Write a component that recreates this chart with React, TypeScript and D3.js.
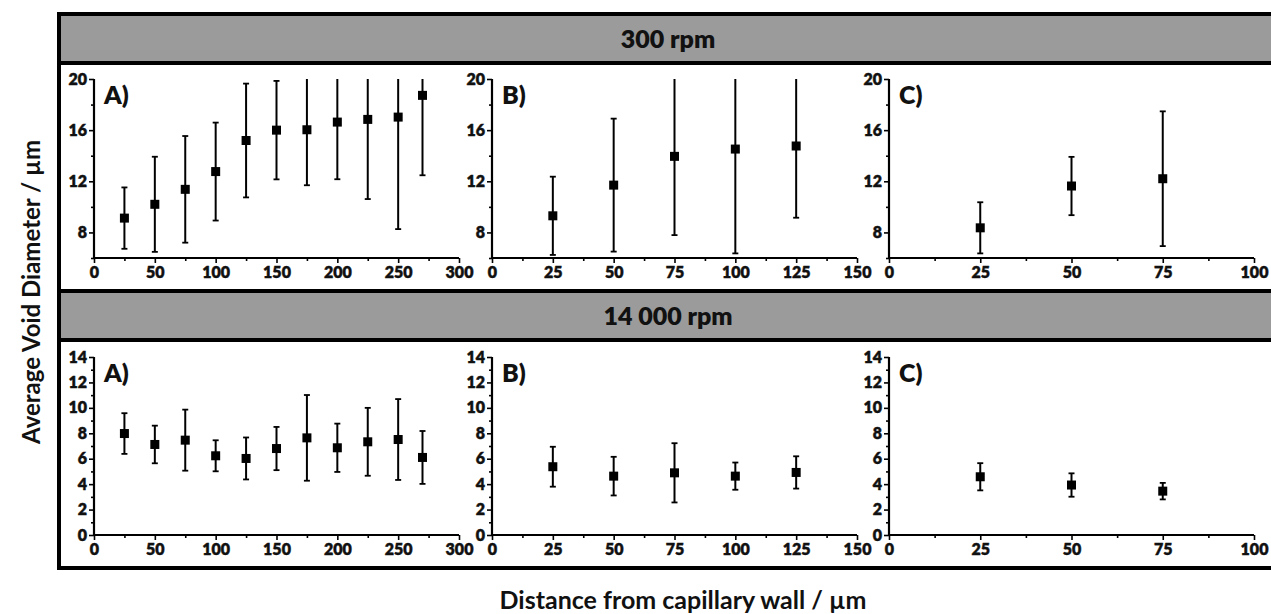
import { useEffect, useRef } from 'react';
import * as d3 from 'd3';

// distances from capillary wall (µm)
const distA = [25, 50, 75, 100, 125, 150, 175, 200, 225, 250, 270];
const distB = [25, 50, 75, 100, 125];
const distC = [25, 50, 75];

// 300 rpm: mean void diameter and error (µm)
const slowA = [9.12, 10.2, 11.37, 12.76, 15.19, 16.0, 16.03, 16.63, 16.84, 17.02, 18.72];
const slowAErr = [2.4, 3.72, 4.17, 3.83, 4.45, 3.85, 4.34, 4.47, 6.23, 8.76, 6.25];
const slowB = [9.3, 11.7, 13.95, 14.52, 14.76];
const slowBErr = [3.06, 5.2, 6.16, 8.16, 5.61];
const slowC = [8.36, 11.63, 12.2];
const slowCErr = [2.0, 2.28, 5.27];

// 14 000 rpm
const fastA = [7.98, 7.12, 7.46, 6.23, 6.02, 6.8, 7.64, 6.86, 7.33, 7.51, 6.1];
const fastAErr = [1.6, 1.48, 2.4, 1.22, 1.65, 1.7, 3.37, 1.9, 2.67, 3.18, 2.08];
const fastB = [5.37, 4.63, 4.89, 4.63, 4.92];
const fastBErr = [1.57, 1.52, 2.33, 1.07, 1.27];
const fastC = [4.58, 3.93, 3.45];
const fastCErr = [1.07, 0.92, 0.65];

const panelLabels = ['A)', 'B)', 'C)'];
const xMax = [300, 150, 100];
const xStep = [50, 25, 25];
const rowTitles = ['300 rpm', '14 000 rpm'];
const yDomains = [[6, 20], [0, 14]];
const yStep = [4, 2];

const FONT = "Lato, 'Open Sans', sans-serif";

export default function App() {
  const svgRef = useRef<SVGSVGElement | null>(null);

  useEffect(() => {
    if (!svgRef.current) return;
    const svg = d3.select(svgRef.current);
    svg.selectAll('*').remove();

    const width = 1271;
    const height = 614;
    const panelX = [94, 492, 889];
    const panelW = 365;
    // [top, bottom] pixel extents of each row's y axis
    const rowY = [[79, 258], [357, 535]];

    const rows = [
      { dists: [distA, distB, distC], means: [slowA, slowB, slowC], errs: [slowAErr, slowBErr, slowCErr] },
      { dists: [distA, distB, distC], means: [fastA, fastB, fastC], errs: [fastAErr, fastBErr, fastCErr] },
    ];

    svg.append('rect').attr('width', width).attr('height', height).attr('fill', 'white');

    // frame + gray headers
    const headers = [[16, 61], [293, 338]];
    headers.forEach(([y0, y1], i) => {
      svg.append('rect')
        .attr('x', 59).attr('y', y0)
        .attr('width', 1240).attr('height', y1 - y0)
        .attr('fill', '#9b9b9b');
      svg.append('text')
        .attr('x', 668).attr('y', (y0 + y1) / 2)
        .attr('dy', '0.36em')
        .attr('text-anchor', 'middle')
        .attr('font-family', FONT)
        .attr('font-weight', 800)
        .attr('font-size', 25)
        .attr('fill', '#111')
        .text(rowTitles[i]);
    });
    [63, 291, 340].forEach(y => {
      svg.append('line')
        .attr('x1', 57).attr('x2', 1290)
        .attr('y1', y).attr('y2', y)
        .attr('stroke', '#000').attr('stroke-width', 4);
    });
    svg.append('rect')
      .attr('x', 59).attr('y', 14)
      .attr('width', 1240).attr('height', 554)
      .attr('fill', 'none')
      .attr('stroke', '#000').attr('stroke-width', 4);

    rows.forEach((row, r) => {
      const [yTop, yBot] = rowY[r];
      const [lo, hi] = yDomains[r];
      const ys = yStep[r];
      const y = d3.scaleLinear().domain([lo, hi]).range([yBot, yTop]);
      const yMajorTicks = d3.range(Math.ceil(lo / ys) * ys, hi + 0.001, ys);
      const yMinorTicks = d3.range(lo, hi + 0.001, ys / 2).filter(v => Math.abs(v % ys) > 0.001);

      panelX.forEach((px, p) => {
        const xs = xStep[p];
        const x = d3.scaleLinear().domain([0, xMax[p]]).range([px, px + panelW]);
        const xMajorTicks = d3.range(0, xMax[p] + 0.001, xs);
        const xMinorTicks = d3.range(xs / 2, xMax[p], xs);

        const g = svg.append('g');

        // x axis
        const xAxis = g.append('g')
          .attr('transform', `translate(0,${yBot})`)
          .call(d3.axisBottom(x).tickValues(xMajorTicks).tickSize(5).tickPadding(4).tickFormat(d3.format('d')));
        g.append('g')
          .attr('transform', `translate(0,${yBot})`)
          .call(d3.axisBottom(x).tickValues(xMinorTicks).tickSize(3).tickFormat(() => ''));

        // y axis
        const yAxis = g.append('g')
          .attr('transform', `translate(${px},0)`)
          .call(d3.axisLeft(y).tickValues(yMajorTicks).tickSize(5).tickPadding(2).tickFormat(d3.format('d')));
        g.append('g')
          .attr('transform', `translate(${px},0)`)
          .call(d3.axisLeft(y).tickValues(yMinorTicks).tickSize(3).tickFormat(() => ''));

        g.selectAll('.domain').remove();
        g.selectAll('.tick line').attr('stroke', '#000').attr('stroke-width', 1.6);
        [xAxis, yAxis].forEach(a => a.selectAll('text')
          .attr('font-family', FONT)
          .attr('font-weight', 800)
          .attr('font-size', 16)
          .attr('fill', '#111')
          .attr('stroke', '#111')
          .attr('stroke-width', 0.4));

        // axis lines
        g.append('line')
          .attr('x1', px).attr('x2', px + panelW)
          .attr('y1', yBot).attr('y2', yBot)
          .attr('stroke', '#000').attr('stroke-width', 2.2);
        g.append('line')
          .attr('x1', px).attr('x2', px)
          .attr('y1', yTop).attr('y2', yBot)
          .attr('stroke', '#000').attr('stroke-width', 2.2);

        // panel letter
        g.append('text')
          .attr('x', px + 10).attr('y', yTop + 25)
          .attr('font-family', FONT)
          .attr('font-weight', 800)
          .attr('font-size', 25)
          .attr('fill', '#111')
          .text(panelLabels[p]);

        // error bars + markers
        const dists = row.dists[p];
        const means = row.means[p];
        const errs = row.errs[p];
        const data = dists.map((d, i) => ({ d, m: means[i], e: errs[i] }));

        const pts = g.selectAll('.pt').data(data).enter().append('g').attr('class', 'pt');
        pts.append('line')
          .attr('x1', v => x(v.d)).attr('x2', v => x(v.d))
          .attr('y1', v => y(Math.max(lo, v.m - v.e)))
          .attr('y2', v => y(Math.min(hi, v.m + v.e)))
          .attr('stroke', '#000').attr('stroke-width', 2);
        pts.filter(v => v.m + v.e <= hi).append('line')
          .attr('x1', v => x(v.d) - 3).attr('x2', v => x(v.d) + 3)
          .attr('y1', v => y(v.m + v.e)).attr('y2', v => y(v.m + v.e))
          .attr('stroke', '#000').attr('stroke-width', 1.8);
        pts.filter(v => v.m - v.e >= lo).append('line')
          .attr('x1', v => x(v.d) - 3).attr('x2', v => x(v.d) + 3)
          .attr('y1', v => y(v.m - v.e)).attr('y2', v => y(v.m - v.e))
          .attr('stroke', '#000').attr('stroke-width', 1.8);
        pts.append('rect')
          .attr('x', v => x(v.d) - 4.5).attr('y', v => y(v.m) - 4.5)
          .attr('width', 9).attr('height', 9)
          .attr('fill', '#000');
      });
    });

    // axis titles
    svg.append('text')
      .attr('transform', 'translate(40,292) rotate(-90)')
      .attr('text-anchor', 'middle')
      .attr('font-family', FONT)
      .attr('font-weight', 700)
      .attr('font-size', 24)
      .attr('fill', '#111')
      .text('Average Void Diameter / µm');
    svg.append('text')
      .attr('x', 683).attr('y', 609)
      .attr('text-anchor', 'middle')
      .attr('font-family', FONT)
      .attr('font-weight', 700)
      .attr('font-size', 25)
      .attr('fill', '#111')
      .text('Distance from capillary wall / µm');
  }, []);

  return (
    <svg
      ref={svgRef}
      width={1271}
      height={614}
      style={{ position: 'absolute', left: 0, top: 0, display: 'block' }}
      viewBox="0 0 1271 614"
    />
  );
}
